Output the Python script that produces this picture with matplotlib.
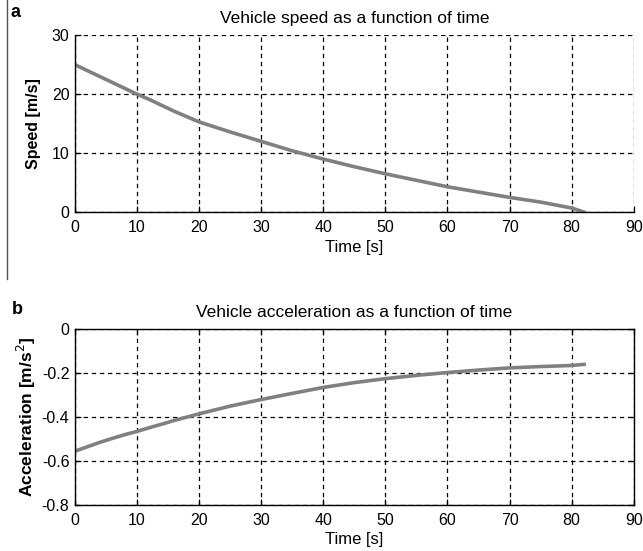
import matplotlib.pyplot as plt
from matplotlib.lines import Line2D

plt.rcParams['font.family'] = ['Liberation Sans', 'DejaVu Sans']

# values
time_s = [0, 2, 4, 6, 8, 10, 12, 14, 16, 18, 20, 25, 30, 35, 40, 45, 50,
          55, 60, 65, 70, 75, 78, 80, 82]
speed = [25.0, 24.0, 23.0, 22.0, 21.0, 20.0, 19.1, 18.1, 17.1, 16.2, 15.3,
         13.6, 12.0, 10.4, 9.0, 7.7, 6.5, 5.4, 4.3, 3.4, 2.5, 1.7, 1.1, 0.7, 0.0]
accel = [-0.555, -0.535, -0.515, -0.497, -0.48, -0.465, -0.448, -0.432,
         -0.415, -0.40, -0.385, -0.35, -0.32, -0.292, -0.265, -0.243, -0.225,
         -0.21, -0.197, -0.186, -0.176, -0.17, -0.167, -0.165, -0.16]

xticks = list(range(0, 100, 10))
speed_ticks = [0, 10, 20, 30]
accel_ticks = [0, -0.2, -0.4, -0.6, -0.8]
accel_labels = ['0', '-0.2', '-0.4', '-0.6', '-0.8']

line_color = '#808080'
tick_fs = 11.5

fig = plt.figure(figsize=(6.43, 5.51), dpi=100)


def style_axes(ax):
    ax.set_xlim(0, 90)
    ax.set_xticks(xticks)
    ax.grid(True, color='black', linestyle=(0, (3.5, 3)), linewidth=0.9)
    ax.tick_params(direction='in', length=4, width=0.9, labelsize=tick_fs,
                   top=True, right=True)
    ax.tick_params(axis='x', pad=6)
    ax.tick_params(axis='y', pad=4)
    for s in ax.spines.values():
        s.set_linewidth(1.0)
    ax.set_xlabel('Time [s]', fontsize=12, labelpad=3)


# a: speed
ax1 = fig.add_axes([0.1166, 0.615, 0.869, 0.321])
ax1.plot(time_s, speed, color=line_color, linewidth=2.6)
style_axes(ax1)
ax1.set_ylim(0, 30)
ax1.set_yticks(speed_ticks)
ax1.spines['top'].set_visible(False)
ax1.spines['right'].set_visible(False)
ax1.tick_params(top=False, right=False)
ax1.set_ylabel('Speed [m/s]', fontsize=11.5, fontweight='bold', labelpad=8)
ax1.set_title('Vehicle speed as a function of time', fontsize=12.5, pad=9)

# b: acceleration
ax2 = fig.add_axes([0.1166, 0.0835, 0.869, 0.319])
ax2.plot(time_s, accel, color=line_color, linewidth=2.6)
style_axes(ax2)
ax2.set_ylim(-0.8, 0)
ax2.set_yticks(accel_ticks)
ax2.set_yticklabels(accel_labels)
ax2.set_ylabel('Acceleration [m/s$^{2}$]', fontsize=12.5, fontweight='bold',
               labelpad=3)
ax2.set_title('Vehicle acceleration as a function of time', fontsize=12.5,
              pad=9)

fig.text(0.016, 0.993, 'a', fontsize=13, fontweight='bold', va='top')
fig.text(0.018, 1 - 301 / 551, 'b', fontsize=13, fontweight='bold', va='top')
fig.add_artist(Line2D([0.011, 0.011], [1.0, 1 - 279 / 551],
                      color='#555555', linewidth=1.0))

fig.savefig('out.png', dpi=100)
